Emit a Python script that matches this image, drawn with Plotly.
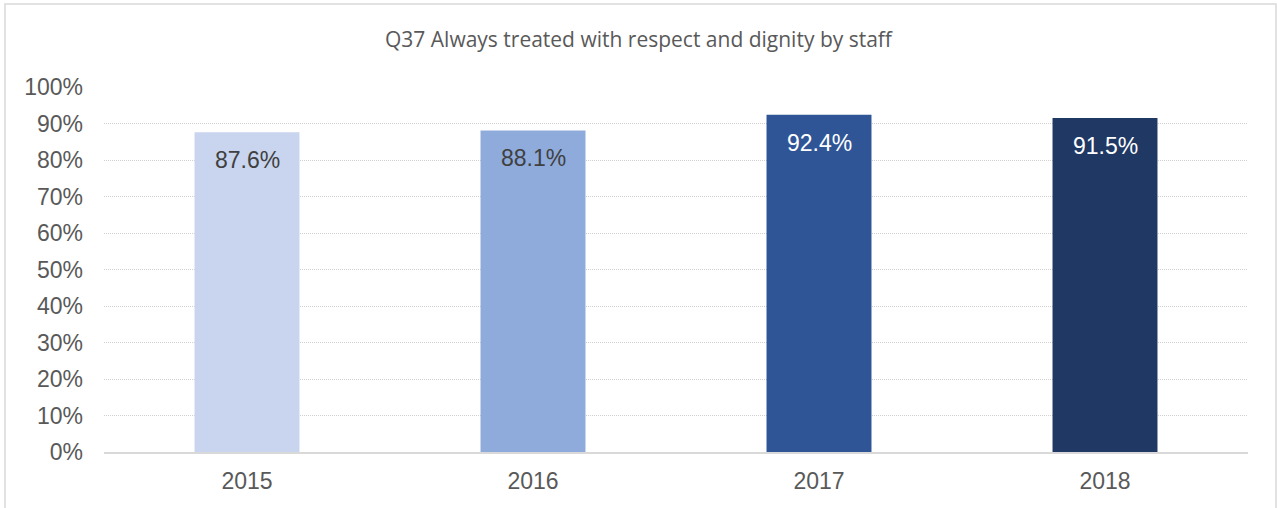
import plotly.graph_objects as go

years = ["2015", "2016", "2017", "2018"]
values = [87.6, 88.1, 92.4, 91.5]
labels = ["87.6%", "88.1%", "92.4%", "91.5%"]
bar_colors = ["#C9D5EE", "#8FABDC", "#2F5597", "#203864"]
label_colors = ["#404040", "#404040", "#FFFFFF", "#FFFFFF"]
title_text = "Q37 Always treated with respect and dignity by staff"
y_ticks = [0, 10, 20, 30, 40, 50, 60, 70, 80, 90, 100]
y_tick_text = [f"{v}%" for v in y_ticks]

W, H = 1277, 508
L, R, T, B = 104, 29, 87, 56
pw, ph = W - L - R, H - T - B

fig = go.Figure()
fig.add_trace(go.Bar(
    x=years, y=values, marker=dict(color=bar_colors, line=dict(width=0)),
    width=0.367, hoverinfo="skip",
))

for i, (v, lab, c) in enumerate(zip(values, labels, label_colors)):
    fig.add_annotation(x=i, y=v, text=lab, showarrow=False, yanchor="middle",
                       yshift=-28, font=dict(family="Liberation Sans, Arial", size=23, color=c))

fig.add_shape(type="rect", xref="paper", yref="paper",
              x0=(5 - L) / pw, x1=(1276 - L) / pw,
              y0=-(H + 5 - T - ph) / ph, y1=1 + (T - 4) / ph,
              line=dict(color="#D9D9D9", width=1.5), fillcolor="rgba(0,0,0,0)", layer="below")

fig.update_layout(
    width=W, height=H,
    margin=dict(l=L, r=R, t=T, b=B, autoexpand=False),
    paper_bgcolor="white", plot_bgcolor="white",
    showlegend=False,
    title=dict(text=title_text, x=0.5, xref="container", xanchor="center",
               y=1 - 40 / H, yref="container", yanchor="middle",
               font=dict(family="Open Sans", size=21, color="#595959")),
    xaxis=dict(type="category", range=[-0.5, len(years) - 0.5], showgrid=False,
               showline=True, linecolor="#D9D9D9", linewidth=1.5,
               ticks="", ticklabelstandoff=8, automargin=False,
               tickfont=dict(family="Liberation Sans, Arial", size=23, color="#595959")),
    yaxis=dict(range=[0, 100], tickvals=y_ticks, ticktext=y_tick_text, automargin=False,
               showgrid=True, gridcolor="#D0D0D0", griddash="1px,1px", gridwidth=1,
               zeroline=False, showline=False, ticks="", ticklabelstandoff=20,
               tickfont=dict(family="Liberation Sans, Arial", size=23, color="#595959")),
)

fig.write_html("out.html", config={"displayModeBar": False},
               post_script="document.body.style.margin='0';")
